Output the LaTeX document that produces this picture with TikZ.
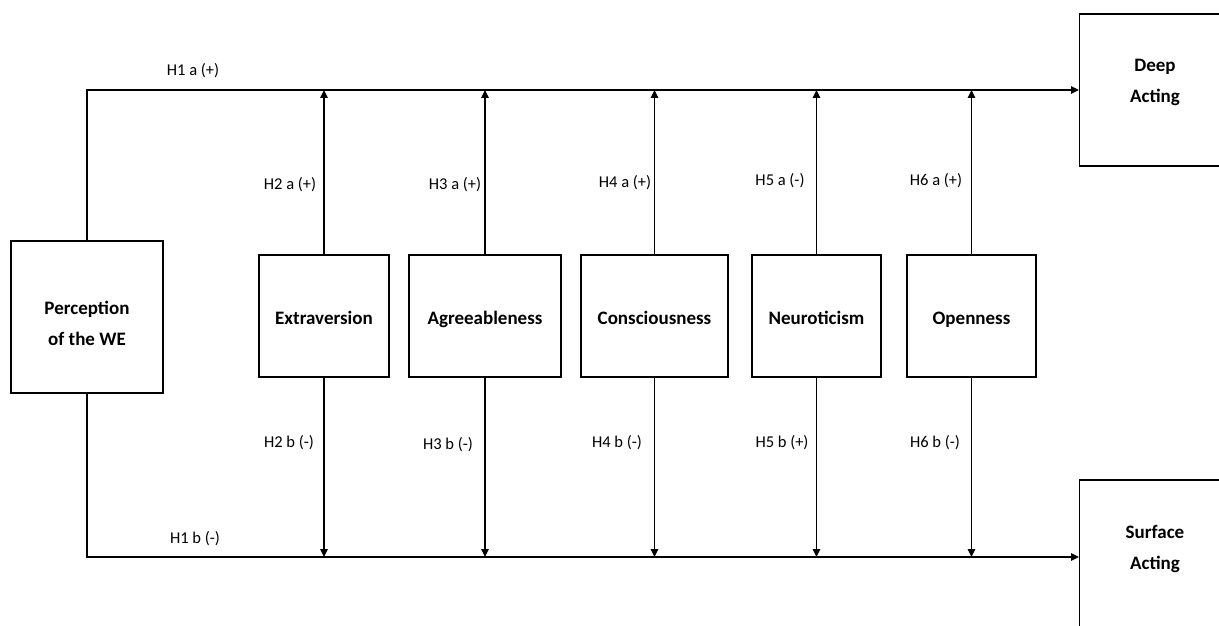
\documentclass[tikz,border=0pt]{standalone}
\usepackage{fontspec}
\setmainfont{Carlito}
\usetikzlibrary{arrows.meta}
\begin{document}
\begin{tikzpicture}[x=1pt,y=-1pt,
  box/.style={draw, line width=1.1pt, rectangle, inner sep=0pt, align=center, font=\fontsize{19}{31}\selectfont\bfseries},
  mid/.style={box, minimum height=122pt, text height=17pt, text depth=0pt},
  big/.style={font=\fontsize{19}{31}\selectfont\bfseries, align=center, inner sep=0pt},
  lab/.style={font=\fontsize{16.5}{18}\selectfont, inner sep=0pt},
  conn/.style={line width=1.1pt},
  arr/.style={conn, -{Triangle[length=8pt,width=7.5pt]}}]
\useasboundingbox (0,0) rectangle (1219,626);
\clip (0,0) rectangle (1219,626);
\fill[white] (0,0) rectangle (1219,626);
% boxes
\node[box, minimum width=152pt, minimum height=152pt] (per) at (87,317) {};
\node[big] (pert) at (87,323) {Perception\\of the WE};
\node[box, minimum width=152pt, minimum height=152pt, anchor=west] (deep) at (1079,90) {};
\node[big] (deept) at (1155,82) {Deep\\Acting};
\node[box, minimum width=152pt, minimum height=154pt, anchor=west] (surf) at (1079,557) {};
\node[big] (surft) at (1155,549) {Surface\\Acting};
\node[mid, minimum width=130pt] (ext) at (324,316) {Extraversion};
\node[mid, minimum width=152pt] (agr) at (485,316) {Agreeableness};
\node[mid, minimum width=147pt] (con) at (654.5,316) {Consciousness};
\node[mid, minimum width=129pt] (neu) at (816.5,316) {Neuroticism};
\node[mid, minimum width=129pt] (ope) at (971.5,316) {Openness};
% main connectors
\draw[arr] (per.north) |- (deep.west);
\draw[arr] (per.south) |- (surf.west);
% vertical connectors
\foreach \n in {ext,agr,con,neu,ope}{
  \draw[arr] (\n.north) -- (\n.north |- deep.west);
  \draw[arr] (\n.south) -- (\n.south |- surf.west);
}
% labels
\node[lab] (l1a) at (193,71) {H1 a (+)};
\node[lab] (l1b) at (195,539) {H1 b (-)};
\node[lab] (l2a) at (290,185) {H2 a (+)};
\node[lab] (l3a) at (455,185) {H3 a (+)};
\node[lab] (l4a) at (625,183) {H4 a (+)};
\node[lab] (l5a) at (780,181) {H5 a (-)};
\node[lab] (l6a) at (936,181) {H6 a (+)};
\node[lab] (l2b) at (289,443) {H2 b (-)};
\node[lab] (l3b) at (448,445) {H3 b (-)};
\node[lab] (l4b) at (617,443) {H4 b (-)};
\node[lab] (l5b) at (782,443) {H5 b (+)};
\node[lab] (l6b) at (935,443) {H6 b (-)};
\end{tikzpicture}
\end{document}
